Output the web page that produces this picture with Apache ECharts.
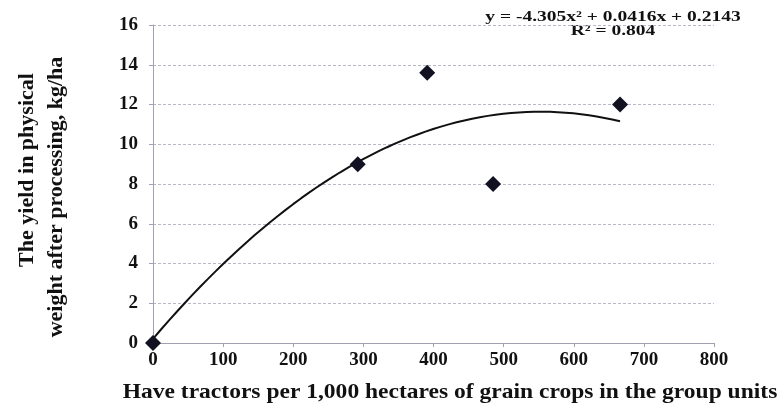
<!DOCTYPE html>
<html>
<head>
<meta charset="utf-8">
<script src="https://cdn.jsdelivr.net/npm/echarts@6/dist/echarts.min.js"></script>
<style>html,body{margin:0;padding:0;background:#fff;}#c{width:779px;height:411px;}</style>
</head>
<body>
<div id="c"></div>
<script>
// Data
var tractors = [0, 292, 391, 485, 666];
var yieldVals = [0, 9, 13.6, 8, 12];
var yTicks = [0, 2, 4, 6, 8, 10, 12, 14, 16];
var xTicks = [0, 100, 200, 300, 400, 500, 600, 700, 800];
var xTitle = 'Have tractors per 1,000 hectares of grain crops in the group units';
var yTitle1 = 'The yield in physical';
var yTitle2 = 'weight after processing, kg/ha';
var equationText = 'y = -4.305x² + 0.0416x + 0.2143';
var r2Text = 'R² = 0.804';

// Least-squares quadratic trendline from the data (as the spreadsheet trendline)
function quadFit(xs, ys) {
  var n = xs.length, s = [0,0,0,0,0], t = [0,0,0];
  for (var i = 0; i < n; i++) {
    var x = xs[i] / 100, p = 1;
    for (var k = 0; k <= 4; k++) { s[k] += p; if (k <= 2) t[k] += p * ys[i]; p *= x; }
  }
  var M = [[s[0], s[1], s[2], t[0]], [s[1], s[2], s[3], t[1]], [s[2], s[3], s[4], t[2]]];
  for (var c = 0; c < 3; c++) {
    for (var r = c + 1; r < 3; r++) {
      var f = M[r][c] / M[c][c];
      for (var j = c; j < 4; j++) M[r][j] -= f * M[c][j];
    }
  }
  var sol = [0,0,0];
  for (var r2 = 2; r2 >= 0; r2--) {
    var v = M[r2][3];
    for (var j2 = r2 + 1; j2 < 3; j2++) v -= M[r2][j2] * sol[j2];
    sol[r2] = v / M[r2][r2];
  }
  return function (x) { var u = x / 100; return sol[0] + sol[1] * u + sol[2] * u * u; };
}
var trend = quadFit(tractors, yieldVals);
var xMaxData = Math.max.apply(null, tractors);
var trendData = [];
for (var i = 0; i <= 60; i++) { var xv = xMaxData * i / 60; trendData.push([xv, trend(xv)]); }

var pts = tractors.map(function (x, i) { return [x, yieldVals[i]]; });
var font = '"Liberation Serif", "Times New Roman", serif';

var chart = echarts.init(document.getElementById('c'));
chart.setOption({
  animation: false,
  backgroundColor: '#fff',
  grid: { left: 153, right: 65, top: 25, bottom: 68, containLabel: false },
  xAxis: {
    type: 'value', min: xTicks[0], max: xTicks[xTicks.length - 1], interval: 100,
    axisLine: { show: true, lineStyle: { color: '#a0a0b0', width: 1 } },
    axisTick: { show: true, length: 4, lineStyle: { color: '#a0a0b0' } },
    splitLine: { show: false },
    axisLabel: { color: '#111', fontFamily: font, fontWeight: 'bold', fontSize: 19, margin: 8 }
  },
  yAxis: {
    type: 'value', min: yTicks[0], max: yTicks[yTicks.length - 1], interval: 2,
    axisLine: { show: true, lineStyle: { color: '#a0a0b0', width: 1 } },
    axisTick: { show: true, length: 4, lineStyle: { color: '#a0a0b0' } },
    splitLine: { show: true, lineStyle: { color: '#b8b8c8', width: 1, type: [3, 2] } },
    axisLabel: { color: '#111', fontFamily: font, fontWeight: 'bold', fontSize: 19, margin: 15 }
  },
  graphic: [
    { type: 'text', x: 450, y: 393, scaleX: 1.12, style: { text: xTitle, font: 'bold 21px ' + font, fill: '#111', align: 'center', verticalAlign: 'middle' } },
    { type: 'text', x: 27, y: 170, rotation: Math.PI / 2, style: { text: yTitle1, font: 'bold 22px ' + font, fill: '#111', align: 'center', verticalAlign: 'middle' } },
    { type: 'text', x: 56, y: 197, rotation: Math.PI / 2, style: { text: yTitle2, font: 'bold 22px ' + font, fill: '#111', align: 'center', verticalAlign: 'middle' } },
    { type: 'text', x: 613, y: 17, scaleX: 1.3, style: { text: equationText, font: 'bold 15px ' + font, fill: '#111', align: 'center', verticalAlign: 'middle' } },
    { type: 'text', x: 613, y: 31, scaleX: 1.3, style: { text: r2Text, font: 'bold 15px ' + font, fill: '#111', align: 'center', verticalAlign: 'middle' } }
  ],
  series: [
    { type: 'line', data: trendData, showSymbol: false, smooth: false, lineStyle: { color: '#111', width: 2 }, z: 3 },
    { type: 'scatter', data: pts, symbol: 'diamond', symbolSize: 16, itemStyle: { color: '#111122', opacity: 1 }, z: 4 }
  ]
});
</script>
</body>
</html>
